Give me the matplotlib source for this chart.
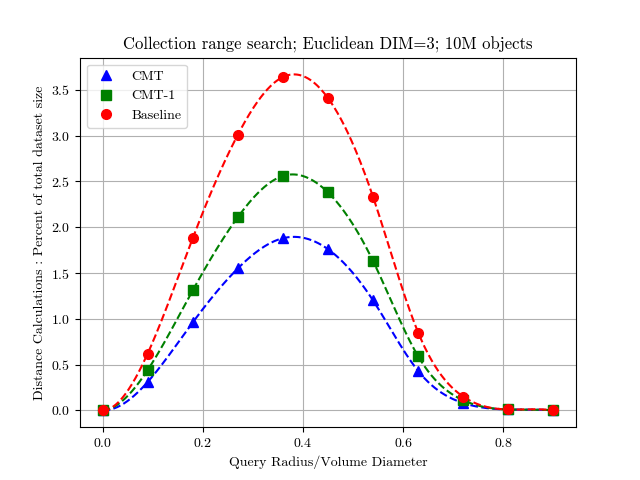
import numpy as np
import matplotlib
matplotlib.use("Agg")
import matplotlib.pyplot as plt

plt.rcParams['font.family'] = 'serif'
plt.rcParams['font.serif'] = ['cmr10']
plt.rcParams['mathtext.fontset'] = 'cm'
plt.rcParams['axes.formatter.use_mathtext'] = True
plt.rcParams['axes.unicode_minus'] = False

radius = [0.0, 0.09, 0.18, 0.27, 0.36, 0.45, 0.54, 0.63, 0.72, 0.81, 0.90]
cmt = [0.0, 0.31, 0.96, 1.55, 1.88, 1.76, 1.20, 0.43, 0.08, 0.01, 0.0]
cmt1 = [0.0, 0.44, 1.31, 2.11, 2.56, 2.38, 1.63, 0.59, 0.11, 0.01, 0.0]
baseline = [0.0, 0.62, 1.88, 3.01, 3.64, 3.41, 2.33, 0.85, 0.15, 0.01, 0.0]


def spline_curve(x, y, n=400):
    """Not-a-knot cubic spline through the points."""
    x = np.asarray(x, float)
    y = np.asarray(y, float)
    m = len(x)
    h = np.diff(x)
    A = np.zeros((m, m))
    b = np.zeros(m)
    for i in range(1, m - 1):
        A[i, i - 1] = h[i - 1]
        A[i, i] = 2 * (h[i - 1] + h[i])
        A[i, i + 1] = h[i]
        b[i] = 6 * ((y[i + 1] - y[i]) / h[i] - (y[i] - y[i - 1]) / h[i - 1])
    # not-a-knot
    A[0, 0] = h[1]
    A[0, 1] = -(h[0] + h[1])
    A[0, 2] = h[0]
    A[-1, -3] = h[-1]
    A[-1, -2] = -(h[-2] + h[-1])
    A[-1, -1] = h[-2]
    M = np.linalg.solve(A, b)
    xs = np.linspace(x[0], x[-1], n)
    idx = np.clip(np.searchsorted(x, xs) - 1, 0, m - 2)
    xi, xi1 = x[idx], x[idx + 1]
    hi = h[idx]
    ys = (M[idx] * (xi1 - xs) ** 3 / (6 * hi) + M[idx + 1] * (xs - xi) ** 3 / (6 * hi)
          + (y[idx] / hi - M[idx] * hi / 6) * (xi1 - xs)
          + (y[idx + 1] / hi - M[idx + 1] * hi / 6) * (xs - xi))
    return xs, ys


fig, ax = plt.subplots(figsize=(6.4, 4.8), dpi=100)

series = [(cmt, 'b', '^', 'CMT'), (cmt1, 'g', 's', 'CMT-1'), (baseline, 'r', 'o', 'Baseline')]
for vals, c, mk, lab in series:
    xs, ys = spline_curve(radius, vals)
    ax.plot(xs, ys, '--', color=c, linewidth=1.5)
for vals, c, mk, lab in series:
    ax.plot(radius, vals, linestyle='none', marker=mk, color=c, markersize=7, label=lab)

ax.set_title('Collection range search; Euclidean DIM=3; 10M objects')
ax.set_xlabel('Query Radius/Volume Diameter')
ax.set_ylabel('Distance Calculations : Percent of total dataset size')
ax.grid(True)
ax.legend(loc='upper left')
fig.savefig('out.png', dpi=100)
